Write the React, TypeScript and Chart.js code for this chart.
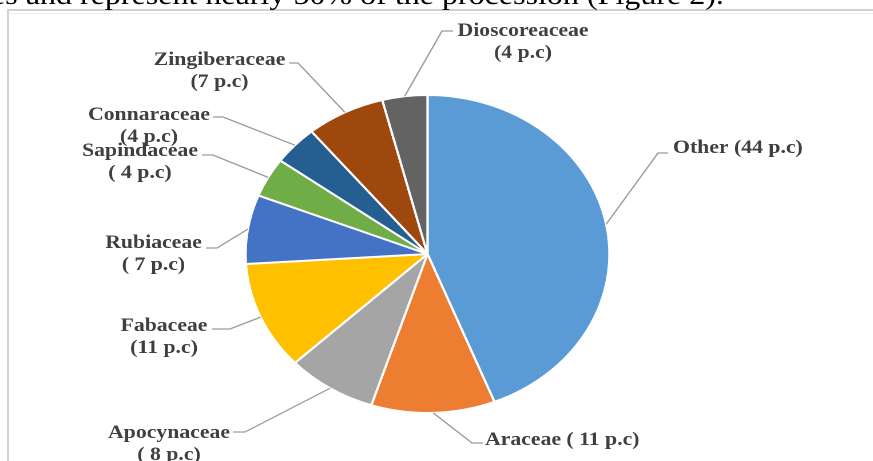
import React, { useEffect, useRef } from "react";
import { Chart, registerables } from "chart.js";

Chart.register(...registerables);

// ---- data ----
const categories = [
  "Other",
  "Araceae",
  "Apocynaceae",
  "Fabaceae",
  "Rubiaceae",
  "Sapindaceae",
  "Connaraceae",
  "Zingiberaceae",
  "Dioscoreaceae",
];
const values = [44, 11, 8, 11, 7, 4, 4, 7, 4];
const colors = [
  "#5B9BD5",
  "#ED7D31",
  "#A5A5A5",
  "#FFC000",
  "#4472C4",
  "#70AD47",
  "#255E91",
  "#9E480E",
  "#636363",
];
const labelTexts = [
  ["Other (44 p.c)"],
  ["Araceae ( 11 p.c)"],
  ["Apocynaceae", "( 8 p.c)"],
  ["Fabaceae", "(11 p.c)"],
  ["Rubiaceae", "( 7 p.c)"],
  ["Sapindaceae", "( 4 p.c)"],
  ["Connaraceae", "(4 p.c)"],
  ["Zingiberaceae", "(7 p.c)"],
  ["Dioscoreaceae", "(4 p.c)"],
];
const headerText = "es and represent nearly 50% of the procession (Figure 2).";

// ---- layout (screen pixels) ----
const STRETCH = 1.144;
const PAGE_W = 873;
const PAGE_H = 461;
const CANVAS_W = Math.round(PAGE_W / STRETCH);

type LabelLayout = {
  elbow: [number, number];
  tick: [number, number];
  text: [number, number];
  align: CanvasTextAlign;
};
const labelLayout: LabelLayout[] = [
  { elbow: [658, 153], tick: [668, 153], text: [673, 148], align: "left" },
  { elbow: [472, 443], tick: [483, 443], text: [485, 440], align: "left" },
  { elbow: [245, 432], tick: [233, 432], text: [169, 433], align: "center" },
  { elbow: [230, 329], tick: [212, 329], text: [164, 326], align: "center" },
  { elbow: [217, 248], tick: [206, 248], text: [153.5, 243], align: "center" },
  { elbow: [213, 155], tick: [202, 155], text: [140, 151], align: "center" },
  { elbow: [223, 117], tick: [213, 117], text: [149, 115], align: "center" },
  { elbow: [298, 63], tick: [289, 63], text: [219.5, 60], align: "center" },
  { elbow: [442, 31], tick: [453, 31], text: [523, 31], align: "center" },
];

const leaderPlugin = {
  id: "leaderLabels",
  afterDatasetsDraw(chart: any) {
    const ctx: CanvasRenderingContext2D = chart.ctx;
    const meta = chart.getDatasetMeta(0);
    ctx.save();
    meta.data.forEach((arc: any, i: number) => {
      const p = arc.getProps(["x", "y", "startAngle", "endAngle", "outerRadius"], true);
      const mid = (p.startAngle + p.endAngle) / 2;
      const sx = p.x + Math.cos(mid) * p.outerRadius;
      const sy = p.y + Math.sin(mid) * p.outerRadius;
      const lay = labelLayout[i];
      ctx.strokeStyle = "#9b9b9b";
      ctx.lineWidth = 1.3;
      ctx.beginPath();
      ctx.moveTo(sx, sy);
      ctx.lineTo(lay.elbow[0] / STRETCH, lay.elbow[1]);
      ctx.lineTo(lay.tick[0] / STRETCH, lay.tick[1]);
      ctx.stroke();
      ctx.fillStyle = "#3f3f3f";
      ctx.font = "bold 19px 'Liberation Serif', 'Times New Roman', serif";
      ctx.textAlign = lay.align;
      ctx.textBaseline = "middle";
      labelTexts[i].forEach((t, k) => {
        ctx.fillText(t, lay.text[0] / STRETCH, lay.text[1] + k * 22);
      });
    });
    // header text of the scanned page (cut off at the top)
    ctx.fillStyle = "#000";
    ctx.font = "28px 'Liberation Serif', 'Times New Roman', serif";
    ctx.textAlign = "left";
    ctx.textBaseline = "alphabetic";
    ctx.fillText(headerText, -9 / STRETCH, 4);
    ctx.restore();
  },
};

export default function App() {
  const ref = useRef<HTMLCanvasElement | null>(null);

  useEffect(() => {
    if (!ref.current) return;
    const cx = 427.5 / STRETCH;
    const left = 100;
    const right = CANVAS_W - (2 * cx - left);
    const chart = new Chart(ref.current, {
      type: "pie",
      data: {
        labels: categories,
        datasets: [
          {
            data: values,
            backgroundColor: colors,
            borderColor: "#ffffff",
            borderWidth: 2,
          },
        ],
      },
      options: {
        animation: false,
        responsive: false,
        devicePixelRatio: 2,
        layout: { padding: { top: 94, bottom: 47, left, right } },
        plugins: {
          legend: { display: false },
          tooltip: { enabled: false },
          title: { display: false },
        },
      },
      plugins: [leaderPlugin],
    });
    return () => chart.destroy();
  }, []);

  return (
    <div
      style={{
        position: "fixed",
        left: 0,
        top: 0,
        width: PAGE_W,
        height: PAGE_H,
        overflow: "hidden",
        background: "#ffffff",
      }}
    >
      <div
        style={{
          position: "absolute",
          left: 7,
          top: 9,
          width: PAGE_W,
          height: PAGE_H,
          borderTop: "2px solid #d2d2d2",
          borderLeft: "2px solid #d2d2d2",
        }}
      />
      <div
        style={{
          position: "absolute",
          left: 9,
          top: 13,
          width: PAGE_W,
          height: 0,
          borderTop: "1px solid #efefef",
        }}
      />
      <div
        style={{
          position: "absolute",
          left: 0,
          top: 0,
          width: CANVAS_W,
          height: PAGE_H,
          transform: `scaleX(${STRETCH})`,
          transformOrigin: "0 0",
        }}
      >
        <canvas ref={ref} width={CANVAS_W} height={PAGE_H} />
      </div>
    </div>
  );
}
